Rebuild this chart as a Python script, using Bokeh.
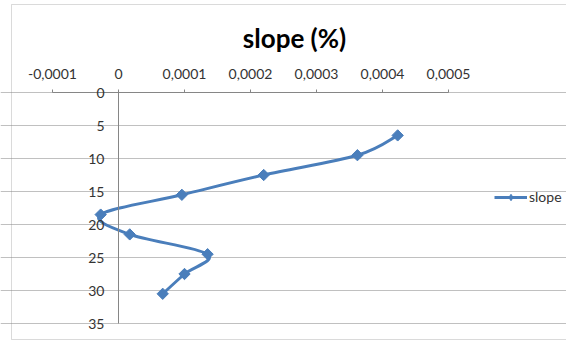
import numpy as np
from bokeh.plotting import figure
from bokeh.models import (Range1d, LinearAxis, FixedTicker, Grid, Legend, LegendItem,
                          Label, BoxAnnotation, ColumnDataSource)
from bokeh.embed import file_html
from bokeh.resources import INLINE

# depth (m) and slope values
depth = [6.5, 9.5, 12.5, 15.5, 18.5, 21.5, 24.5, 27.5, 30.5]
slope = [0.000423, 0.000362, 0.000220, 0.000096, -0.000027,
         0.000017, 0.000135, 0.000100, 0.000067]

x_ticks = [-0.0001, 0.0, 0.0001, 0.0002, 0.0003, 0.0004, 0.0005]
x_tick_labels = ["-0,0001", "0", "0,0001", "0,0002", "0,0003", "0,0004", "0,0005"]
y_ticks = [0, 5, 10, 15, 20, 25, 30, 35]

BLUE = "#4a7ebb"
FONT = "Lato"
W, H = 566, 340

# plot area in canvas pixels; the frame covers the whole canvas and the
# ranges are widened so the value window lands on this box
X_MIN, X_MAX = -0.0001, 0.0005
Y_MIN, Y_MAX = 0, 35
PX_L, PX_R, PX_T, PX_B = 52, 448, 92, 323
kx = (X_MAX - X_MIN) / (PX_R - PX_L)
ky = (Y_MAX - Y_MIN) / (PX_B - PX_T)
x_range = Range1d(X_MIN - PX_L * kx, X_MAX + (W - PX_R) * kx)
y_range = Range1d(Y_MAX + (H - PX_B) * ky, Y_MIN - PX_T * ky)

p = figure(width=W, height=H, output_backend="svg", toolbar_location=None,
           x_range=x_range, y_range=y_range,
           x_axis_type=None, y_axis_type=None,
           min_border=0)
p.outline_line_color = None
p.background_fill_color = "white"
p.border_fill_color = "white"

# horizontal gridlines
p.add_layout(Grid(dimension=1, ticker=FixedTicker(ticks=y_ticks),
                  bounds=(X_MIN, X_MAX),
                  grid_line_color="#c0c0c0", grid_line_width=1))

# value axis along the top, at depth 0
xaxis = LinearAxis(ticker=FixedTicker(ticks=x_ticks), fixed_location=0,
                   bounds=(X_MIN, X_MAX),
                   major_label_overrides={t: s for t, s in zip(x_ticks, x_tick_labels)},
                   axis_line_color="#868686", major_tick_line_color="#868686",
                   major_tick_in=0, major_tick_out=3, minor_tick_out=0, minor_tick_in=0,
                   major_label_standoff=11,
                   major_label_text_font=FONT, major_label_text_font_size="14px",
                   major_label_text_color="#333333")
p.add_layout(xaxis, "above")

# depth axis crossing at x = 0
yaxis = LinearAxis(ticker=FixedTicker(ticks=y_ticks), fixed_location=0,
                   bounds=(Y_MIN, Y_MAX),
                   axis_line_color="#868686", major_tick_in=0, major_tick_out=0,
                   minor_tick_out=0, minor_tick_in=0, major_label_standoff=14,
                   major_label_text_font=FONT, major_label_text_font_size="14px",
                   major_label_text_color="#333333")
p.add_layout(yaxis, "left")

# smoothed curve through the points (Catmull-Rom style bezier segments)
xs = np.array(slope)
ys = np.array(depth)
n = len(xs)
xp = np.concatenate([[xs[0]], xs, [xs[-1]]])
yp = np.concatenate([[ys[0]], ys, [ys[-1]]])
t = 1.0 / 6.0
cx0 = xs[:-1] + (xp[2:n + 1] - xp[0:n - 1]) * t
cy0 = ys[:-1] + (yp[2:n + 1] - yp[0:n - 1]) * t
cx1 = xs[1:] - (xp[3:n + 2] - xp[1:n]) * t
cy1 = ys[1:] - (yp[3:n + 2] - yp[1:n]) * t
p.bezier(x0=xs[:-1], y0=ys[:-1], x1=xs[1:], y1=ys[1:],
         cx0=cx0, cy0=cy0, cx1=cx1, cy1=cy1,
         line_color=BLUE, line_width=3)

# diamond markers: squares turned by 45 degrees
pts_src = ColumnDataSource(dict(x=slope, y=depth, angle=[np.pi / 4] * len(slope)))
p.scatter(x="x", y="y", angle="angle", source=pts_src, marker="square", size=8,
          fill_color=BLUE, line_color=BLUE)

# legend key: line with a small diamond
key_line = p.line(x=[np.nan, np.nan], y=[np.nan, np.nan], line_color=BLUE, line_width=3)
key_mark = p.scatter(x=[np.nan], y=[np.nan], marker="diamond", size=11,
                     fill_color=BLUE, line_color=BLUE)

legend = Legend(items=[LegendItem(label="slope", renderers=[key_line, key_mark])],
                location=(494, 135), orientation="vertical",
                glyph_width=33, glyph_height=16, label_height=16, label_standoff=2,
                padding=0, margin=0, spacing=0,
                border_line_color=None, background_fill_alpha=0,
                label_text_font=FONT, label_text_font_size="14px",
                label_text_color="#333333")
p.add_layout(legend)

p.add_layout(Label(x=294, y=37, x_units="canvas", y_units="canvas",
                   text="slope (%)", text_align="center", text_baseline="alphabetic",
                   text_font=FONT, text_font_size="26px", text_font_style="bold",
                   text_color="#000000"))

# chart area border
p.add_layout(BoxAnnotation(left=11, right=W + 20, top=4, bottom=339,
                           left_units="canvas", right_units="canvas",
                           top_units="canvas", bottom_units="canvas",
                           fill_alpha=0, line_color="#868686", line_width=1))

open("out.html", "w").write(file_html(p, INLINE))
